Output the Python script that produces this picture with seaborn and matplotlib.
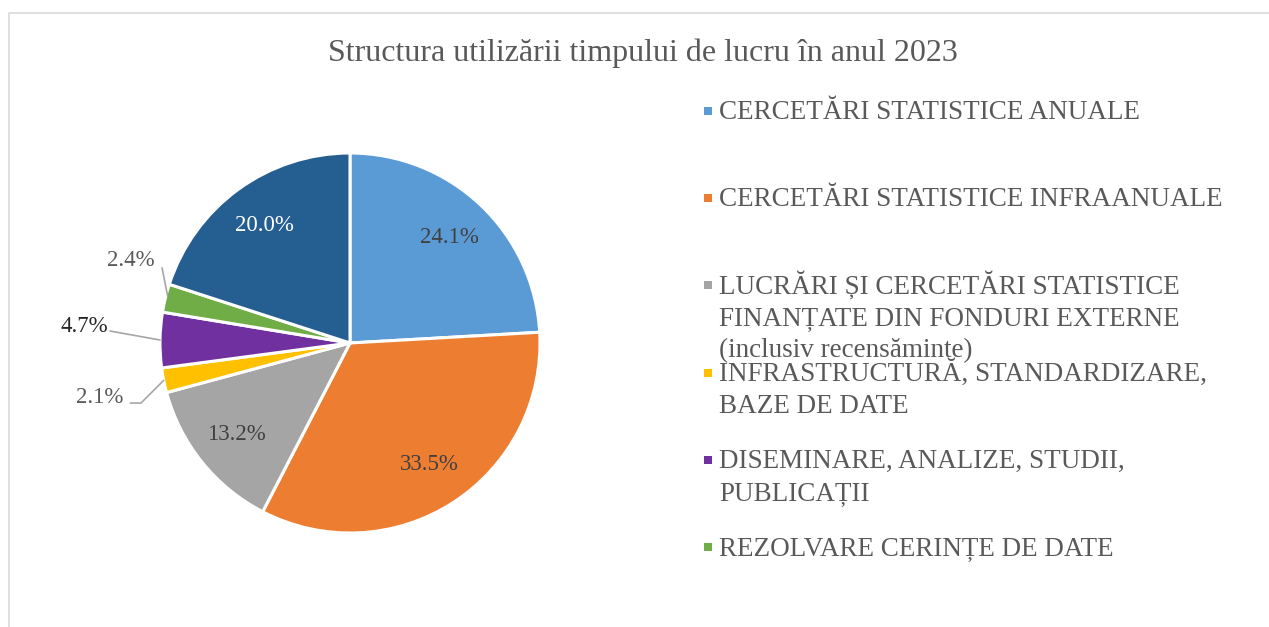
import numpy as np
import matplotlib
matplotlib.use("Agg")
import matplotlib.pyplot as plt
import seaborn as sns

# date
categorii = [
    "CERCETĂRI STATISTICE ANUALE",
    "CERCETĂRI STATISTICE INFRAANUALE",
    "LUCRĂRI ȘI CERCETĂRI STATISTICE\nFINANȚATE DIN FONDURI EXTERNE\n(inclusiv recensăminte)",
    "INFRASTRUCTURĂ, STANDARDIZARE,\nBAZE DE DATE",
    "DISEMINARE, ANALIZE, STUDII,\nPUBLICAȚII",
    "REZOLVARE CERINȚE DE DATE",
    "ALTE LUCRĂRI",
]
valori = [24.1, 33.5, 13.2, 2.1, 4.7, 2.4, 20.0]
culori = ["#5B9BD5", "#ED7D31", "#A5A5A5", "#FFC000", "#7030A0", "#70AD47", "#255E91"]
n_legenda = 6  # ultima categorie nu apare in legenda

sns.set_theme(style="white")
plt.rcParams['font.family'] = ['Liberation Serif', 'DejaVu Serif']

W, H = 1269, 627
fig = plt.figure(figsize=(W / 100, H / 100), dpi=100)

# axa pentru pie: centru (350, 343) px, raza 190 px
cx, cy, r = 350, 343, 190
ax = fig.add_axes([(cx - r) / W, (H - cy - r) / H, 2 * r / W, 2 * r / H])
wedges, _ = ax.pie(
    valori,
    colors=culori,
    startangle=90,
    counterclock=False,
    wedgeprops=dict(edgecolor="white", linewidth=2.2),
)
ax.set_xlim(-1, 1)
ax.set_ylim(-1, 1)
ax.axis("off")

# etichete: in interior pentru felii mari, in exterior cu linii pentru cele mici
pozitii_ext = {3: (-1.316, -0.289), 4: (-1.40, 0.089), 5: (-1.153, 0.432)}
for i, (w, v) in enumerate(zip(wedges, valori)):
    theta = np.deg2rad((w.theta1 + w.theta2) / 2)
    ux, uy = np.cos(theta), np.sin(theta)
    txt = f"{v:.1f}%"
    if i in pozitii_ext:
        tx, ty = pozitii_ext[i]
        col = "#262626" if i == 4 else "#595959"
        ax.text(tx, ty, txt, ha="center", va="center", fontsize=16.5, color=col)
        ax_, ay_ = ux * 1.0, uy * 1.0
        if i == 3:
            xs = [tx + 0.16, tx + 0.216, ax_]
            ys = [ty - 0.027, ty - 0.027, ay_]
        elif i == 4:
            xs = [tx + 0.137, ax_]
            ys = [ty - 0.026, ay_]
        else:
            xs = [tx + 0.164, ax_ + 0.012]
            ys = [ty - 0.037, ay_ + 0.01]
        ax.plot(xs, ys, color="#A6A6A6", lw=1.2, clip_on=False)
    else:
        col = "white" if i == 6 else "#404040"
        ax.text(0.765 * ux, 0.765 * uy, txt, ha="center", va="center",
                fontsize=16.5, color=col)

# strat de suprapunere in pixeli pentru titlu, legenda, chenar
ov = fig.add_axes([0, 0, 1, 1])
ov.set_xlim(0, W)
ov.set_ylim(H, 0)
ov.axis("off")
ov.patch.set_alpha(0)

ov.plot([9, 9, W + 5], [H + 5, 13, 13], color="#D9D9D9", lw=1.2, clip_on=False)

ov.text(643, 53, "Structura utilizării timpului de lucru în anul 2023",
        ha="center", va="center", fontsize=23, color="#595959")

# legenda: fiecare rand al etichetei desenat separat pe linia de baza
y0, dy, rand = 119, 87.2, 32
for i in range(n_legenda):
    yb = y0 + i * dy
    ov.scatter([707.5], [yb - 8], marker="s", s=36, color=culori[i], linewidths=0)
    for k, linie in enumerate(categorii[i].split("\n")):
        ov.text(719, yb + k * rand, linie, ha="left", va="baseline",
                fontsize=19.5, color="#595959")

fig.savefig("out.png", dpi=100, facecolor="white")
